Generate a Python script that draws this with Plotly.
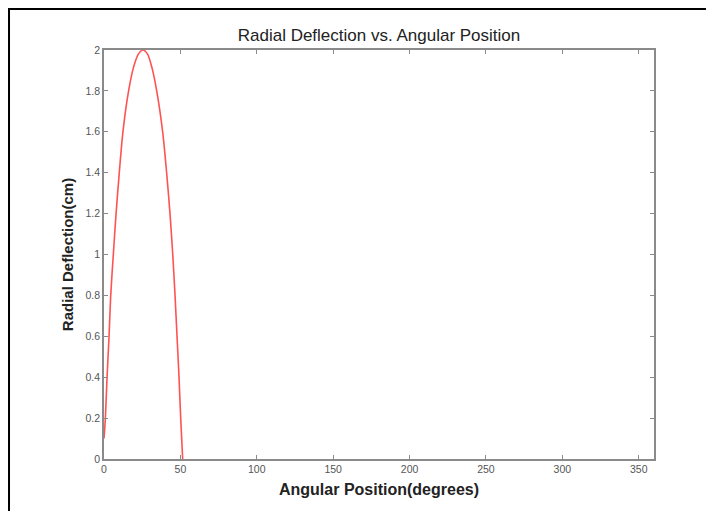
import plotly.graph_objects as go

# Data
angle_deg = [0, 0.9, 2.0, 3.3, 4.4, 6.1, 7.9, 10.0, 12.4, 16.1, 19.5, 22.5, 25.5,
             28.5, 31.5, 34.5, 38.4, 41.0, 43.2, 45.0, 46.5, 47.8, 49.1, 50.2, 51.5]
deflection_cm = [0.1, 0.2, 0.4, 0.6, 0.8, 1.0, 1.2, 1.4, 1.6, 1.8, 1.92, 1.98, 2.0,
                 1.98, 1.91, 1.8, 1.6, 1.4, 1.2, 1.0, 0.8, 0.6, 0.4, 0.2, 0.0]
x_ticks = [0, 50, 100, 150, 200, 250, 300, 350]
y_ticks = [0, 0.2, 0.4, 0.6, 0.8, 1, 1.2, 1.4, 1.6, 1.8, 2]
y_tick_labels = ["0", "0.2", "0.4", "0.6", "0.8", "1", "1.2", "1.4", "1.6", "1.8", "2"]

fig = go.Figure()
fig.add_trace(go.Scatter(
    x=angle_deg, y=deflection_cm, mode="lines",
    line=dict(color="#ff5252", width=1.6, shape="spline", smoothing=0.8),
    showlegend=False, hoverinfo="x+y",
))

axis_common = dict(
    showgrid=False, zeroline=False, showline=True, linecolor="#8a8a8a",
    linewidth=1.5, mirror="ticks", ticks="inside", ticklen=4, tickwidth=1,
    tickcolor="#8a8a8a", tickfont=dict(family="Liberation Sans, Arial", size=10.5, color="#555555"),
)

fig.update_layout(
    width=714, height=511,
    paper_bgcolor="white", plot_bgcolor="white",
    margin=dict(l=96, r=68, t=42, b=60),
    title=dict(text="Radial Deflection vs. Angular Position", x=0.5, xanchor="center",
               xref="paper", y=0.948, yanchor="middle",
               font=dict(family="Liberation Sans, Arial", size=17, color="#222222")),
    xaxis=dict(range=[0, 360], tickvals=x_ticks, **axis_common,
               title=dict(text="<b>Angular Position(degrees)</b>", standoff=9,
                          font=dict(family="Liberation Sans, Arial", size=16, color="#222222"))),
    yaxis=dict(range=[0, 2], tickvals=y_ticks, ticktext=y_tick_labels, **axis_common,
               title=dict(text="<b>Radial Deflection(cm)</b>", standoff=8,
                          font=dict(family="Liberation Sans, Arial", size=15, color="#222222"))),
    shapes=[dict(type="rect", xref="paper", yref="paper",
                 x0=-0.1727, x1=1.2, y0=-0.2, y1=1.1004,
                 line=dict(color="black", width=2), layer="above")],
)

fig.write_html("out.html")
